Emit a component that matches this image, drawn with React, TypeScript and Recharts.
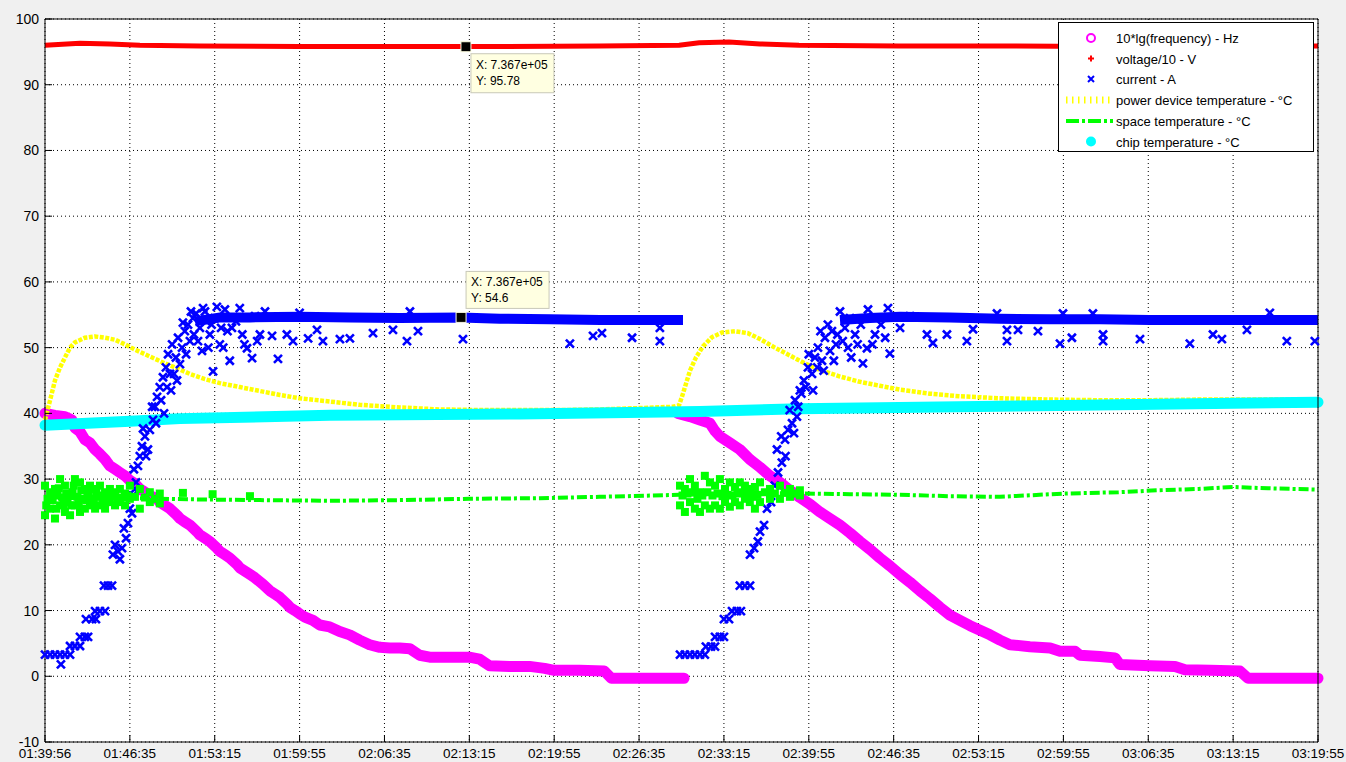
import {
  CartesianGrid,
  ComposedChart,
  Line,
  ReferenceDot,
  Scatter,
  XAxis,
  YAxis,
} from "recharts";

// time is seconds elapsed since 01:39:56
const TIME_TICKS = [0, 400, 800, 1200, 1600, 2000, 2400, 2800, 3200, 3600, 4000, 4400, 4800, 5200, 5600, 6000];
const TIME_LABELS = [
  "01:39:56", "01:46:35", "01:53:15", "01:59:55", "02:06:35", "02:13:15", "02:19:55", "02:26:35",
  "02:33:15", "02:39:55", "02:46:35", "02:53:15", "02:59:55", "03:06:35", "03:13:15", "03:19:55",
];
const VALUE_TICKS = [-10, 0, 10, 20, 30, 40, 50, 60, 70, 80, 90, 100];

type Pt = [number, number];

const freqRun1: Pt[] = [
  [0, 40], [47, 39.7], [94, 39.5], [127, 39], [141, 37.8], [165, 37.2], [188, 36], [212, 35.5],
  [236, 34.5], [259, 33.8], [283, 33], [306, 32], [330, 31.5], [353, 31], [377, 30.5], [400, 29.8],
  [424, 29.3], [447, 28.5], [471, 28], [494, 27.5], [528, 27], [541, 26.5], [565, 26], [589, 25.5],
  [622, 24.5], [636, 24], [659, 23.5], [683, 23], [716, 22], [730, 21.5], [754, 21], [777, 20.5],
  [810, 19.5], [824, 19], [848, 18.5], [871, 18], [905, 17], [918, 16.5], [942, 16], [966, 15.5],
  [989, 15], [1027, 14], [1060, 13], [1084, 12.5], [1107, 12], [1140, 11], [1154, 10.5], [1178, 10],
  [1200, 9.5], [1225, 9], [1263, 8.5], [1295, 7.8], [1342, 7.5], [1389, 6.8], [1436, 6.3], [1483, 5.5],
  [1530, 4.8], [1578, 4.4], [1625, 4.3], [1672, 4.3], [1719, 4.2], [1766, 3.2], [1813, 2.9], [1907, 2.9],
  [2000, 2.9], [2048, 2.6], [2095, 1.6], [2189, 1.5], [2284, 1.5], [2355, 1.2], [2400, 0.9], [2519, 0.9],
  [2636, 0.8], [2669, -0.3], [2800, -0.3], [2895, -0.3], [3012, -0.3],
];
const freqRun2: Pt[] = [
  [2983, 40], [3040, 39.5], [3087, 39], [3134, 38.5], [3158, 37.3], [3181, 36.5], [3228, 35.5], [3275, 34.5],
  [3322, 33], [3370, 31.8], [3417, 30.5], [3464, 29.5], [3511, 28.3], [3558, 27.2], [3605, 26.2], [3652, 25],
  [3700, 24], [3747, 23], [3794, 21.8], [3841, 20.5], [3888, 19.3], [3935, 18], [3982, 16.8], [4029, 15.5],
  [4077, 14.3], [4124, 13], [4171, 11.8], [4218, 10.5], [4265, 9.3], [4312, 8.5], [4360, 7.7], [4407, 7],
  [4454, 6.3], [4501, 5.5], [4548, 4.8], [4642, 4.5], [4737, 4.3], [4784, 3.8], [4855, 3.8], [4878, 3.2],
  [4972, 3.0], [5043, 2.8], [5066, 1.8], [5208, 1.6], [5326, 1.5], [5373, 1.0], [5491, 0.9], [5632, 0.8],
  [5670, -0.3], [6000, -0.3],
];

const voltage: Pt[] = [
  [0, 96.0], [165, 96.3], [306, 96.2], [447, 96.0], [730, 95.9], [1200, 95.8], [1672, 95.8], [2142, 95.8],
  [2613, 95.9], [2989, 96.0], [3083, 96.4], [3224, 96.5], [3370, 96.2], [3554, 96.0], [4024, 95.9],
  [4495, 95.9], [4966, 95.8], [5436, 95.8], [6000, 95.9],
];

// dense plateau of the current readings
const currentBand1: Pt[] = [
  [707, 54], [825, 54.6], [966, 54.6], [1202, 54.7], [1437, 54.6], [1673, 54.5], [1960, 54.6], [2144, 54.4],
  [2380, 54.3], [2616, 54.2], [2851, 54.2], [3007, 54.2],
];
const currentBand2: Pt[] = [
  [3747, 54.2], [3888, 54.5], [4030, 54.7], [4265, 54.6], [4501, 54.4], [4737, 54.3], [4972, 54.3],
  [5208, 54.2], [5444, 54.2], [5679, 54.2], [6000, 54.2],
];
const currentMarks1: Pt[] = [
  [0, 3.3], [24, 3.3], [47, 3.3], [71, 3.3], [94, 3.3], [118, 3.3], [75, 1.8], [118, 4.6], [141, 4.6],
  [165, 4.6], [165, 6], [188, 6], [203, 6], [193, 8.7], [222, 8.7], [240, 8.7], [236, 9.9], [259, 9.9],
  [283, 9.9], [278, 13.8], [297, 13.8], [316, 13.8], [320, 18.5], [330, 20], [344, 19], [353, 17.8],
  [363, 19.5], [382, 21], [372, 22.5], [391, 23.3], [400, 25.5], [410, 24.8], [415, 27.5], [424, 28.5],
  [429, 29.5], [419, 31.5], [438, 32], [447, 33.5], [457, 35], [462, 37.7], [471, 36.5], [476, 33.5],
  [485, 34.5], [494, 37.5], [509, 39], [518, 41], [528, 42.5], [541, 44], [556, 45.5], [570, 47],
  [589, 46], [580, 49], [599, 50.5], [617, 48.5], [627, 51.5], [646, 50], [659, 52.5], [674, 53.5],
  [683, 51], [697, 54.5], [712, 55.2], [730, 53], [754, 55.5], [777, 52], [792, 46.4], [800, 54.5],
  [824, 50.5], [848, 55.8], [871, 48], [881, 53], [918, 56], [952, 49.9], [976, 48.4], [990, 54.8],
  [1013, 52], [1037, 55.5], [1070, 51.8], [1098, 48.3], [1140, 52], [1169, 51], [1200, 55.3], [1240, 51.4],
  [1282, 52.7], [1310, 51], [1390, 51.3], [1437, 51.4], [1546, 52.2], [1640, 52.7], [1706, 51], [1720, 55.5],
  [1758, 52.5], [1970, 51.3], [2474, 50.6], [2583, 51.8], [2625, 52.2], [2767, 51.5], [2898, 51], [2898, 53],
  [505, 41], [523, 38.5], [547, 42], [561, 40], [575, 44], [594, 43.5], [608, 46], [622, 45], [636, 47.5],
  [650, 53.8], [665, 49], [688, 55.5], [702, 52], [721, 51], [740, 49.5], [745, 56], [760, 54], [770, 50],
  [785, 53.5], [810, 56.2], [830, 53], [840, 50], [860, 52.5], [900, 54], [930, 52], [940, 50.5], [1000, 51],
];
const currentMarks2: Pt[] = [
  [2993, 3.3], [3016, 3.3], [3040, 3.3], [3063, 3.3], [3087, 3.3], [3110, 3.3], [3115, 4.5], [3139, 4.5],
  [3158, 4.5], [3158, 6], [3181, 6], [3200, 6], [3200, 8.7], [3224, 8.7], [3238, 9.9], [3261, 9.9],
  [3280, 9.9], [3275, 13.8], [3299, 13.8], [3323, 13.8], [3323, 18.5], [3342, 19.5], [3360, 20.5],
  [3370, 22], [3389, 23], [3403, 25.5], [3422, 26.5], [3440, 29], [3455, 31], [3473, 32.5], [3450, 34.5],
  [3488, 36], [3502, 37.5], [3521, 38.5], [3544, 39.5], [3535, 42], [3558, 43.5], [3577, 45], [3596, 47],
  [3615, 46], [3629, 48.5], [3643, 50], [3662, 48], [3676, 51.5], [3700, 49.5], [3709, 52.5], [3728, 50.5],
  [3747, 55.5], [3770, 53], [3794, 54.5], [3818, 52], [3855, 47.6], [3874, 49.9], [3879, 55.8], [3912, 52],
  [3973, 56], [3982, 49.1], [4030, 53], [4077, 54.8], [4157, 52], [4185, 50.7], [4251, 52], [4345, 51],
  [4374, 52.8], [4487, 55.2], [4534, 51], [4534, 52.7], [4586, 52.7], [4680, 52.5], [4784, 50.6],
  [4798, 55.2], [4840, 51.5], [4939, 55.2], [4987, 52], [4987, 51], [5161, 51.3], [5396, 50.6], [5505, 52],
  [5547, 51.3], [5665, 52.7], [5773, 55.3], [5853, 51], [5985, 51],
  [3470, 36.5], [3490, 33.5], [3510, 40.5], [3530, 37], [3550, 41], [3565, 43], [3585, 44], [3600, 49],
  [3620, 43.5], [3640, 47], [3655, 52.5], [3670, 46.5], [3690, 53.5], [3718, 48], [3735, 52], [3760, 51],
  [3785, 50], [3800, 48.5], [3830, 50.5], [3845, 53.5], [3900, 50.5], [3940, 53.5], [3960, 51.5],
];

const powerTemp: Pt[] = [
  [0, 39], [24, 42], [47, 45], [71, 47], [94, 48.5], [118, 50], [141, 50.8], [188, 51.5], [236, 51.7],
  [283, 51.5], [330, 51.2], [377, 50.5], [424, 49.7], [471, 49], [518, 48.3], [565, 47.6], [612, 47],
  [683, 46], [754, 45.2], [824, 44.6], [918, 44], [1013, 43.4], [1107, 42.8], [1200, 42.3], [1342, 41.8],
  [1483, 41.3], [1672, 40.9], [1860, 40.6], [2048, 40.5], [2236, 40.5], [2425, 40.5], [2613, 40.6],
  [2800, 40.8], [2960, 41], [2988, 41.2], [3002, 42.5], [3021, 44.5], [3040, 46.5], [3068, 48.5],
  [3101, 50.2], [3144, 51.6], [3191, 52.3], [3252, 52.5], [3313, 52.2], [3370, 51.3], [3440, 50],
  [3511, 48.8], [3582, 47.6], [3652, 46.6], [3747, 45.6], [3841, 44.8], [3935, 44.2], [4030, 43.6],
  [4171, 43], [4312, 42.6], [4501, 42.3], [4737, 42.1], [4972, 42], [5208, 42], [5444, 42.1], [5726, 42.1],
  [6000, 42.1],
];

const spaceTemp: Pt[] = [
  [0, 27], [259, 27.2], [541, 27], [730, 26.9], [1013, 26.8], [1342, 26.7], [1672, 26.8], [2000, 27],
  [2331, 27.1], [2613, 27.3], [2989, 27.6], [3370, 27.9], [3558, 27.8], [3794, 27.7], [4030, 27.6],
  [4265, 27.4], [4501, 27.3], [4800, 27.8], [5060, 28], [5248, 28.3], [5436, 28.5], [5600, 28.8],
  [5765, 28.6], [6000, 28.4],
];
// scattered readings while the motor starts
const spaceTempNoise: Pt[] = [
  [0, 24.5], [0, 29], [24, 25.5], [24, 28], [47, 24], [47, 28.5], [71, 26], [71, 30], [94, 25], [94, 29],
  [118, 24.5], [118, 27.5], [141, 26], [141, 30], [165, 25], [165, 29.5], [188, 25.5], [188, 28.5],
  [212, 26], [212, 29], [236, 25.5], [236, 28.5], [259, 26], [259, 29], [283, 25.5], [283, 28],
  [306, 26.5], [306, 28.5], [330, 26], [330, 28], [353, 26.5], [353, 28.5], [377, 26], [377, 27.8],
  [400, 27], [400, 29], [447, 25.5], [447, 28.5], [494, 26.5], [494, 28], [541, 26.3], [541, 27.8],
  [12, 27], [36, 26.8], [59, 27.5], [83, 27.2], [106, 26.5], [130, 28], [153, 27.3], [177, 27],
  [200, 27.2], [224, 27], [248, 27.3], [271, 26.8], [295, 27], [318, 27.4], [342, 27], [365, 27.2],
  [388, 27.5], [424, 27.3], [471, 27.2], [518, 27], [6, 26], [30, 27.8], [53, 25.5], [65, 28.6],
  [88, 26.2], [100, 27.8], [124, 26], [135, 29], [159, 26.2], [171, 28.3], [194, 26.8], [206, 28],
  [230, 26.5], [242, 28], [265, 27.5], [289, 26.5], [312, 27.8], [650, 27.9], [790, 27.7], [966, 27.4],
  [2993, 26], [2993, 29], [3016, 25], [3016, 28.5], [3040, 26.5], [3040, 30], [3063, 25.5], [3063, 29],
  [3087, 25], [3087, 28], [3110, 26], [3110, 30.5], [3134, 25.5], [3134, 29.5], [3158, 26], [3158, 29],
  [3181, 25.5], [3181, 30], [3205, 26.5], [3205, 28.5], [3228, 25.8], [3228, 29.5], [3252, 26.5],
  [3252, 28.8], [3275, 26], [3275, 29.5], [3299, 27], [3299, 29], [3322, 26.5], [3322, 28.5], [3346, 25.5],
  [3346, 28.8], [3370, 26.5], [3370, 29.5], [3417, 27], [3417, 28.5], [3464, 27], [3464, 29], [3511, 27.3],
  [3511, 28.5], [3558, 27.5], [3558, 28.3], [3005, 27.5], [3028, 27.8], [3052, 28], [3075, 27],
  [3098, 27.5], [3122, 28], [3146, 27.5], [3170, 27.8], [3193, 27.4], [3217, 27.6], [3240, 27.5],
  [3264, 27.8], [3287, 28], [3310, 27.6], [3334, 27.3], [3358, 27.6], [3393, 28], [3440, 27.8],
  [3487, 27.9], [3535, 27.8],
];

const chipTemp: Pt[] = [
  [0, 38.2], [400, 38.8], [636, 39.2], [1342, 39.7], [2236, 39.9], [3087, 40.3], [3558, 40.7],
  [4784, 41.2], [6000, 41.7],
];

const dataTips = [
  { t: 1984, v: 95.78, text: ["X: 7.367e+05", "Y: 95.78"] },
  { t: 1961, v: 54.6, text: ["X: 7.367e+05", "Y: 54.6"] },
];

const LEGEND_NAMES = [
  "10*lg(frequency) - Hz",
  "voltage/10 - V",
  "current - A",
  "power device temperature - °C",
  "space temperature - °C",
  "chip temperature - °C",
];

const pts = (arr: Pt[]) => arr.map(([t, v]) => ({ t, v }));

const FONT = "'Liberation Sans', Arial, sans-serif";

function Cross(props: any) {
  const { cx, cy } = props;
  const s = 4;
  return (
    <path
      d={`M${cx - s},${cy - s}L${cx + s},${cy + s}M${cx + s},${cy - s}L${cx - s},${cy + s}`}
      stroke="#0000ff"
      strokeWidth={2.6}
      fill="none"
    />
  );
}

function Block(props: any) {
  const { cx, cy } = props;
  return <rect x={cx - 4} y={cy - 4} width={8} height={8} fill="#00ff00" />;
}

function tipShape(text: string[], bx: number, by: number, h: number) {
  return (props: any) => {
    const { cx, cy } = props;
    return (
      <g>
        <rect x={cx + bx} y={cy + by} width={83} height={h} fill="#ffffe1" stroke="#c8c8b8" />
        <text x={cx + bx + 5} y={cy + by + 15} fontSize={12} fontFamily={FONT} fill="#000">
          {text[0]}
        </text>
        <text x={cx + bx + 5} y={cy + by + 31} fontSize={12} fontFamily={FONT} fill="#000">
          {text[1]}
        </text>
        <rect x={cx - 5} y={cy - 5} width={10} height={10} fill="#000" stroke="#ffffe1" />
      </g>
    );
  };
}

function LegendBox() {
  const rows = [15, 35.5, 56, 77, 98, 118.5];
  return (
    <div
      style={{
        position: "absolute",
        left: 1058,
        top: 22,
        width: 256,
        height: 130,
        background: "#fff",
        border: "1px solid #000",
        boxSizing: "border-box",
      }}
    >
      <svg width={254} height={128}>
        <circle cx={32} cy={rows[0]} r={4} fill="none" stroke="#ff00ff" strokeWidth={2} />
        <path d={`M29,${rows[1]}h6M32,${rows[1] - 3}v6`} stroke="#ff0000" strokeWidth={2} />
        <path
          d={`M29,${rows[2] - 3}l6,6M35,${rows[2] - 3}l-6,6`}
          stroke="#0000ff"
          strokeWidth={2}
        />
        <line x1={7} x2={54} y1={rows[3]} y2={rows[3]} stroke="#ffff00" strokeWidth={7} strokeDasharray="1.5 4.5" />
        <line x1={7} x2={54} y1={rows[4]} y2={rows[4]} stroke="#00ff00" strokeWidth={4} strokeDasharray="13 3 3 3" />
        <circle cx={32} cy={rows[5]} r={5} fill="#00ffff" />
        {LEGEND_NAMES.map((name, i) => (
          <text key={name} x={57} y={rows[i] + 5} fontSize={13} fontFamily={FONT} fill="#000">
            {name}
          </text>
        ))}
      </svg>
    </div>
  );
}

export default function App() {
  const tickStyle = { fontSize: 14, fill: "#000", fontFamily: FONT };
  const xTickStyle = { fontSize: 13.5, fill: "#000", fontFamily: FONT };
  return (
    <div
      style={{
        position: "absolute",
        left: 0,
        top: 0,
        width: 1346,
        height: 762,
        background: "#f0f0f0",
        fontFamily: FONT,
      }}
    >
      <ComposedChart width={1346} height={762} margin={{ top: 18, right: 27, bottom: 0, left: 0 }}>
        <CartesianGrid
          fill="#ffffff"
          fillOpacity={1}
          stroke="#000"
          strokeDasharray="1 3"
        />
        <XAxis
          dataKey="t"
          type="number"
          domain={[0, 6000]}
          ticks={TIME_TICKS}
          interval={0}
          tickFormatter={(v: number) => TIME_LABELS[Math.round(v / 400)]}
          tick={xTickStyle}
          tickSize={-7}
          tickMargin={13}
          height={20}
          axisLine={{ stroke: "#000" }}
          tickLine={{ stroke: "#000" }}
        />
        <XAxis
          xAxisId="top"
          orientation="top"
          type="number"
          domain={[0, 6000]}
          ticks={TIME_TICKS}
          tick={false}
          tickSize={-7}
          height={1}
          axisLine={{ stroke: "#000" }}
          tickLine={{ stroke: "#000" }}
        />
        <YAxis
          dataKey="v"
          type="number"
          domain={[-10, 100]}
          ticks={VALUE_TICKS}
          interval={0}
          tick={tickStyle}
          tickSize={-7}
          tickMargin={13}
          width={45}
          axisLine={{ stroke: "#000" }}
          tickLine={{ stroke: "#000" }}
        />
        <YAxis
          yAxisId="right"
          orientation="right"
          type="number"
          domain={[-10, 100]}
          ticks={VALUE_TICKS}
          tick={false}
          tickSize={-7}
          width={1}
          axisLine={{ stroke: "#000" }}
          tickLine={{ stroke: "#000" }}
        />

        <Line data={pts(freqRun1)} dataKey="v" stroke="#ff00ff" strokeWidth={11} strokeLinejoin="round" strokeLinecap="round" dot={false} isAnimationActive={false} />
        <Line data={pts(freqRun2)} dataKey="v" stroke="#ff00ff" strokeWidth={11} strokeLinejoin="round" strokeLinecap="round" dot={false} isAnimationActive={false} />
        <Line data={pts(voltage)} dataKey="v" stroke="#ff0000" strokeWidth={5} dot={false} isAnimationActive={false} />
        <Line data={pts(currentBand1)} dataKey="v" stroke="#0000ff" strokeWidth={10} dot={false} isAnimationActive={false} />
        <Line data={pts(currentBand2)} dataKey="v" stroke="#0000ff" strokeWidth={10} dot={false} isAnimationActive={false} />
        <Scatter data={pts(currentMarks1)} dataKey="v" shape={Cross} isAnimationActive={false} />
        <Scatter data={pts(currentMarks2)} dataKey="v" shape={Cross} isAnimationActive={false} />
        <Line data={pts(powerTemp)} dataKey="v" stroke="#ffff00" strokeWidth={4.5} strokeDasharray="4 1.5" dot={false} isAnimationActive={false} />
        <Scatter data={pts(spaceTempNoise)} dataKey="v" shape={Block} isAnimationActive={false} />
        <Line data={pts(spaceTemp)} dataKey="v" stroke="#00ff00" strokeWidth={4} strokeDasharray="10 3 3 3" dot={false} isAnimationActive={false} />
        <Line data={pts(chipTemp)} dataKey="v" stroke="#00ffff" strokeWidth={11} strokeLinecap="round" dot={false} isAnimationActive={false} />

        <ReferenceDot x={dataTips[0].t} y={dataTips[0].v} r={5} shape={tipShape(dataTips[0].text, 5, 7, 39)} />
        <ReferenceDot x={dataTips[1].t} y={dataTips[1].v} r={5} shape={tipShape(dataTips[1].text, 5, -46, 37)} />
      </ComposedChart>
      <LegendBox />
    </div>
  );
}
